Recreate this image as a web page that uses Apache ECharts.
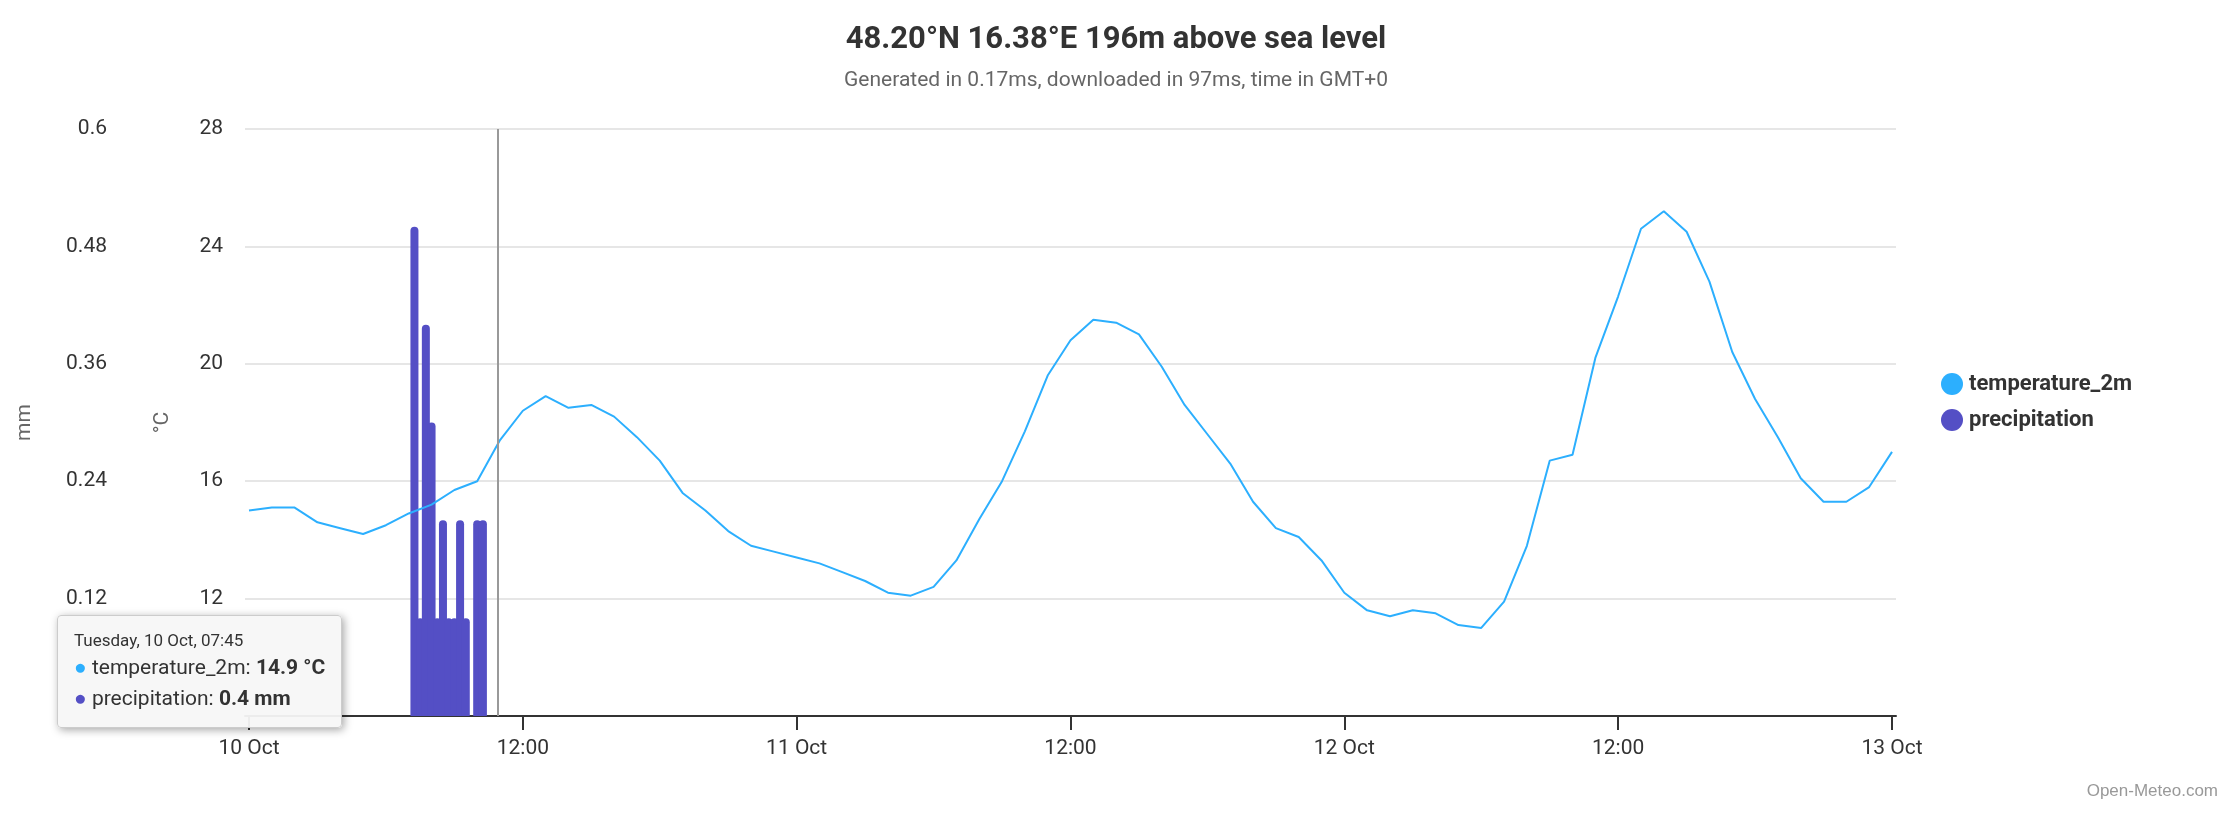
<!DOCTYPE html>
<html><head><meta charset="utf-8">
<script src="https://cdn.jsdelivr.net/npm/echarts@6/dist/echarts.min.js"></script>
<style>html,body{margin:0;padding:0;background:#fff}#main{width:2232px;height:814px}</style>
</head><body><div id="main"></div>
<script>
// hourly temperature from 10 Oct 00:00 UTC to 13 Oct 00:00
const tempValues = [15.0,15.1,15.1,14.6,14.4,14.2,14.5,14.9,15.2,15.7,16.0,17.4,18.4,18.9,18.5,18.6,18.2,17.5,16.7,15.6,15.0,14.3,13.8,13.6,
  13.4,13.2,12.9,12.6,12.2,12.1,12.4,13.3,14.7,16.0,17.7,19.6,20.8,21.5,21.4,21.0,19.9,18.6,17.6,16.6,15.3,14.4,14.1,13.3,
  12.2,11.6,11.4,11.6,11.5,11.1,11.0,11.9,13.8,16.7,16.9,20.2,22.3,24.6,25.2,24.5,22.8,20.4,18.8,17.5,16.1,15.3,15.3,15.8,17.0];
// 15 minute precipitation, starting 10 Oct 07:15
const precipStart = '2023-10-10T07:15:00Z';
const precipValues = [0.5,0.1,0.4,0.3,0.1,0.2,0.1,0.1,0.2,0.1,0,0.2,0.2];
const nowTime = '2023-10-10T10:53:00Z';
const tooltipTitle = 'Tuesday, 10 Oct, 07:45';
const tooltipTemp = '14.9 °C';
const tooltipPrecip = '0.4 mm';

const t0 = Date.parse('2023-10-10T00:00:00Z');
const H = 3600 * 1000;
const tempData = tempValues.map((v, i) => [t0 + i * H, v]);
const p0 = Date.parse(precipStart);
const precipData = precipValues.map((v, i) => [p0 + i * H / 4, v]);

let chart = echarts.init(document.getElementById('main'));
chart.setOption({
  useUTC: true,
  animation: false,
  textStyle: {fontFamily: 'Roboto, "Liberation Sans", sans-serif'},
  title: {
    text: '48.20°N 16.38°E 196m above sea level',
    subtext: 'Generated in 0.17ms, downloaded in 97ms, time in GMT+0',
    left: 'center', top: 20, itemGap: 14,
    textStyle: {fontSize: 31, fontWeight: 'bold', color: '#333'},
    subtextStyle: {fontSize: 21, color: '#666'}
  },
  graphic: [{type: 'text', right: 14, bottom: 14, style: {text: 'Open-Meteo.com', fontSize: 17, fill: '#999'}}],
  legend: {
    orient: 'vertical', left: 1936, top: 368, itemGap: 14,
    itemWidth: 24, itemHeight: 22,
    textStyle: {fontSize: 22, fontWeight: 'bold', color: '#333'},
    data: [{name: 'temperature_2m', icon: 'circle'}, {name: 'precipitation', icon: 'circle'}]
  },
  tooltip: {
    trigger: 'item', alwaysShowContent: true, triggerOn: 'none',
    position: [57, 615],
    backgroundColor: 'rgba(247,247,247,0.95)', borderColor: '#ccc', borderWidth: 1,
    padding: [14, 16], extraCssText: 'box-shadow:2px 2px 8px rgba(0,0,0,0.35);border-radius:4px;',
    formatter: () => '<div style="font-size:17px;color:#333">' + tooltipTitle + '</div>' +
      '<div style="font-size:21px;color:#333;line-height:32px"><span style="color:#2caffe">●</span> temperature_2m: <b>' + tooltipTemp + '</b></div>' +
      '<div style="font-size:21px;color:#333;line-height:30px"><span style="color:#544fc5">●</span> precipitation: <b>' + tooltipPrecip + '</b></div>'
  },
  grid: {left: 245, right: 336, top: 129, bottom: 98},
  xAxis: {
    type: 'time', min: t0, max: t0 + 72 * H, interval: 8 * H,
    axisLine: {lineStyle: {color: '#333', width: 2}},
    axisTick: {show: true, length: 14, lineStyle: {color: '#333', width: 2}},
    splitLine: {show: false},
    axisLabel: {
      fontSize: 21, color: '#333', margin: 22, hideOverlap: false,
      formatter: v => {
        const d = new Date(v);
        const h = d.getUTCHours();
        return h === 0 ? d.getUTCDate() + ' Oct' : String(h).padStart(2, '0') + ':00';
      }
    }
  },
  yAxis: [
    {type: 'value', name: '°C', nameLocation: 'middle', nameGap: 72, nameRotate: 90,
     nameTextStyle: {fontSize: 21, color: '#666'},
     min: 8, max: 28, interval: 4, position: 'left',
     axisLabel: {fontSize: 21, color: '#333', margin: 22, formatter: v => v === 8 ? '' : v},
     splitLine: {lineStyle: {color: '#e6e6e6', width: 2}}, axisLine: {show: false}, axisTick: {show: false}},
    {type: 'value', name: 'mm', nameLocation: 'middle', nameGap: 210, nameRotate: 90,
     nameTextStyle: {fontSize: 21, color: '#666'},
     min: 0, max: 0.6, interval: 0.12, position: 'left', offset: 0,
     axisLabel: {fontSize: 21, color: '#333', margin: 138, formatter: v => v === 0 ? '' : +v.toFixed(2)},
     splitLine: {show: false}, axisLine: {show: false}, axisTick: {show: false}}
  ],
  series: [
    {name: 'temperature_2m', type: 'line', yAxisIndex: 0, data: tempData, color: '#2caffe',
     showSymbol: false, lineStyle: {width: 2}, z: 3,
     markLine: {silent: true, symbol: 'none', label: {show: false},
       lineStyle: {color: '#999', width: 2, type: 'solid'}, data: [{xAxis: Date.parse(nowTime)}]}},
    {name: 'precipitation', type: 'bar', yAxisIndex: 1, data: precipData, color: '#544fc5',
     barWidth: 8, barGap: '-100%', z: 2,
     itemStyle: {borderRadius: [4, 4, 0, 0]}}
  ]
});
chart.dispatchAction({type: 'showTip', seriesIndex: 1, dataIndex: 2});
</script></body></html>
